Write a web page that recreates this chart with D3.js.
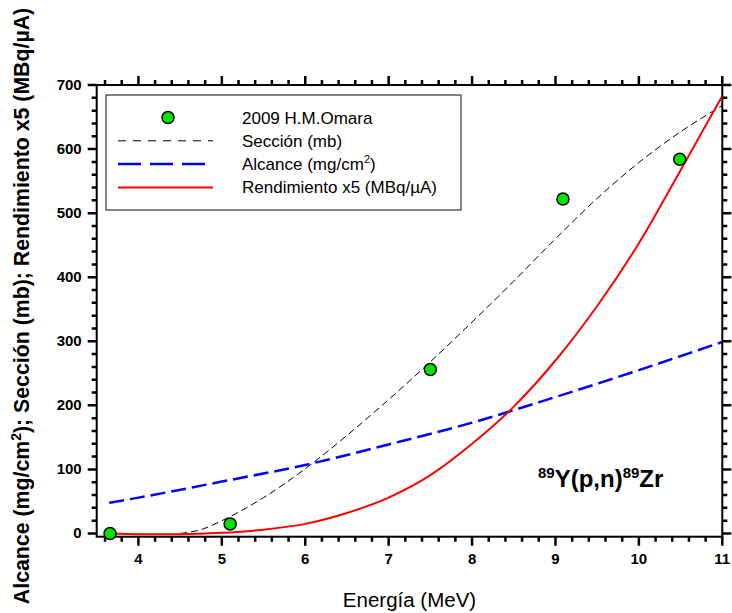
<!DOCTYPE html>
<html>
<head>
<meta charset="utf-8">
<script src="https://cdn.jsdelivr.net/npm/d3@7"></script>
<style>
  body { margin: 0; background: #fff; }
  text { font-family: "Liberation Sans", Arial, sans-serif; }
</style>
</head>
<body>
<svg id="chart" width="732" height="613"></svg>
<script>
// Measured cross-section points (2009 H.M.Omara)
const measuredEnergy = [3.66, 5.10, 7.50, 9.09, 10.49];
const measuredSection = [0, 15, 256, 522, 584];

// Fitted cross section (mb)
const sectionEnergy = [4.5, 4.75, 5, 5.5, 6, 6.5, 7, 7.5, 8, 8.5, 9, 9.5, 10, 10.5, 11];
const sectionValues = [0, 6, 20, 56, 101, 153, 209, 268, 330, 394, 460, 523, 579, 627, 668];

// Proton range (mg/cm2)
const rangeEnergy = [3.65, 4, 5, 6, 7, 8, 9, 10, 11];
const rangeValues = [48, 56, 81, 107, 139, 173, 213, 255, 299];

// Yield x5 (MBq/uA)
const yieldEnergy = [3.65, 4, 4.5, 5, 5.5, 6, 6.5, 7, 7.5, 8, 8.5, 9, 9.5, 10, 10.5, 11];
const yieldValues = [0, -1, -1, 1, 6, 15, 32, 56, 91, 140, 198, 270, 355, 453, 567, 683];

const xTicks = [4, 5, 6, 7, 8, 9, 10, 11];
const yTicks = [0, 100, 200, 300, 400, 500, 600, 700];
const legendLabels = ["2009 H.M.Omara", "Sección (mb)", "Alcance (mg/cm", "Rendimiento x5 (MBq/\u00B5A)"];

const svg = d3.select("#chart");
const plotLeft = 96.7, plotRight = 722.3, plotTop = 85, plotBottom = 536.7;

const x = d3.scaleLinear().domain([3.5, 11]).range([plotLeft, plotRight]);
const y = d3.scaleLinear().domain([-5, 700]).range([plotBottom, plotTop]);

const xMinor = d3.range(3.6, 11.001, 0.2).filter(v => Math.abs(v - Math.round(v)) > 1e-6);
const yMinor = d3.range(20, 700, 20).filter(v => v % 100 !== 0);

// tick marks, all pointing outward from the frame, built as one path
const tickPath = d3.path();
function hTicks(values, len, yPos, dir) {
  values.forEach(v => { tickPath.moveTo(x(v), yPos); tickPath.lineTo(x(v), yPos + dir * len); });
}
function vTicks(values, len, xPos, dir) {
  values.forEach(v => { tickPath.moveTo(xPos, y(v)); tickPath.lineTo(xPos + dir * len, y(v)); });
}
hTicks(xMinor, 5, plotBottom, 1);
hTicks(xTicks, 9, plotBottom, 1);
hTicks(xMinor, 5, plotTop, -1);
hTicks(xTicks, 9, plotTop, -1);
vTicks(yMinor, 5, plotLeft, -1);
vTicks(yTicks, 9, plotLeft, -1);
vTicks(yMinor, 5, plotRight, 1);
vTicks(yTicks, 9, plotRight, 1);
svg.append("path").attr("class", "axis-ticks").attr("d", tickPath.toString())
  .attr("fill", "none").attr("stroke", "#000").attr("stroke-width", 2.5);

// frame
svg.append("rect").attr("x", plotLeft).attr("y", plotTop)
  .attr("width", plotRight - plotLeft).attr("height", plotBottom - plotTop)
  .attr("fill", "none").attr("stroke", "#000").attr("stroke-width", 2);

// tick labels
svg.append("g").selectAll("text").data(xTicks).join("text")
  .attr("x", d => x(d)).attr("y", plotBottom + 27).attr("text-anchor", "middle")
  .attr("font-size", 15).attr("font-weight", "bold").attr("fill", "#000")
  .text(d3.format("d"));
svg.append("g").selectAll("text").data(yTicks).join("text")
  .attr("x", plotLeft - 15).attr("y", d => y(d) + 5).attr("text-anchor", "end")
  .attr("font-size", 15).attr("font-weight", "bold").attr("fill", "#000")
  .text(d3.format("d"));

// clip region for curves
svg.append("clipPath").attr("id", "plotClip").append("rect")
  .attr("x", plotLeft).attr("y", plotTop).attr("width", plotRight - plotLeft).attr("height", plotBottom - plotTop);

const plot = svg.append("g").attr("clip-path", "url(#plotClip)");
const line = d3.line().x(d => x(d[0])).y(d => y(d[1])).curve(d3.curveMonotoneX);

plot.append("path").datum(d3.zip(rangeEnergy, rangeValues))
  .attr("d", line).attr("fill", "none").attr("stroke", "#0000ff")
  .attr("stroke-width", 2.5).attr("stroke-dasharray", "15,6");

plot.append("path").datum(d3.zip(sectionEnergy, sectionValues))
  .attr("d", line).attr("fill", "none").attr("stroke", "#000")
  .attr("stroke-width", 1).attr("stroke-dasharray", "7,4");

plot.append("path").datum(d3.zip(yieldEnergy, yieldValues))
  .attr("d", line).attr("fill", "none").attr("stroke", "#ff0000")
  .attr("stroke-width", 2);

// measured points
svg.append("g").selectAll("circle").data(d3.zip(measuredEnergy, measuredSection)).join("circle")
  .attr("cx", d => x(d[0])).attr("cy", d => y(d[1])).attr("r", 6)
  .attr("fill", "#00e400").attr("stroke", "#000").attr("stroke-width", 1.5);

// legend
const lg = svg.append("g");
lg.append("rect").attr("x", 106).attr("y", 95).attr("width", 355).attr("height", 115)
  .attr("fill", "#fff").attr("stroke", "#333").attr("stroke-width", 1.2);
const rowY = i => 117.5 + i * 23.3;
lg.append("circle").attr("cx", 168).attr("cy", rowY(0)).attr("r", 6)
  .attr("fill", "#00e400").attr("stroke", "#000").attr("stroke-width", 1.5);
lg.append("line").attr("x1", 118).attr("x2", 213).attr("y1", rowY(1)).attr("y2", rowY(1))
  .attr("stroke", "#000").attr("stroke-width", 1).attr("stroke-dasharray", "8,7");
lg.append("line").attr("x1", 118).attr("x2", 213).attr("y1", rowY(2)).attr("y2", rowY(2))
  .attr("stroke", "#0000ff").attr("stroke-width", 2.5).attr("stroke-dasharray", "23,9");
lg.append("line").attr("x1", 118).attr("x2", 213).attr("y1", rowY(3)).attr("y2", rowY(3))
  .attr("stroke", "#ff0000").attr("stroke-width", 2);
legendLabels.forEach((t, i) => {
  const tx = lg.append("text").attr("x", 242).attr("y", rowY(i) + 6)
    .attr("font-size", 17).attr("fill", "#000").text(t);
  if (i === 2) {
    tx.append("tspan").attr("dy", -7).attr("font-size", 11).text("2");
    tx.append("tspan").attr("dy", 7).text(")");
  }
});

// reaction label
const rx = svg.append("text").attr("x", 538).attr("y", 487)
  .attr("font-size", 24).attr("font-weight", "bold").attr("fill", "#000");
rx.append("tspan").attr("font-size", 15).attr("dy", -9).text("89");
rx.append("tspan").attr("dy", 9).text("Y(p,n)");
rx.append("tspan").attr("font-size", 15).attr("dy", -9).text("89");
rx.append("tspan").attr("dy", 9).text("Zr");

// axis titles
svg.append("text").attr("x", (plotLeft + plotRight) / 2).attr("y", 607).attr("text-anchor", "middle")
  .attr("font-size", 20.5).attr("fill", "#000").text("Energía (MeV)");

const yt = svg.append("text").attr("transform", "translate(29,306) rotate(-90)")
  .attr("text-anchor", "middle").attr("font-size", 21.3).attr("font-weight", "bold").attr("fill", "#000");
yt.append("tspan").text("Alcance (mg/cm");
yt.append("tspan").attr("font-size", 14).attr("dy", -8).text("2");
yt.append("tspan").attr("dy", 8).text("); Sección (mb); Rendimiento x5 (MBq/\u00B5A)");
</script>
</body>
</html>
